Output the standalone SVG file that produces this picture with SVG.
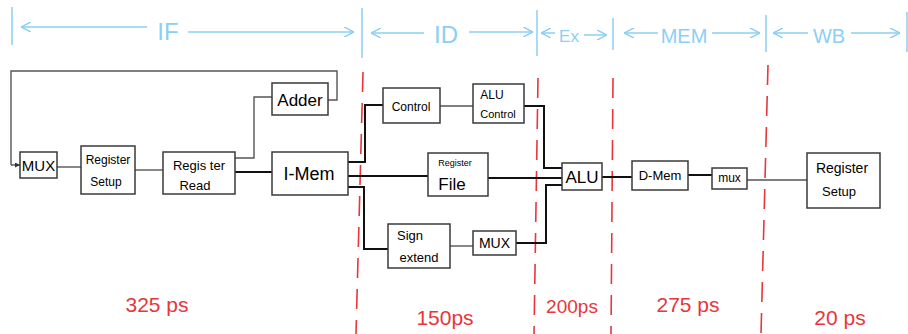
<svg xmlns="http://www.w3.org/2000/svg" width="908" height="334" viewBox="0 0 908 334">
<defs>
<style>
.box{fill:#fff;stroke:#3a3a3a;stroke-width:1.5}
.t{font-family:"Liberation Sans",Arial,sans-serif;fill:#000;text-anchor:middle}
.w{fill:none;stroke:#111;stroke-width:2}
.thin{fill:none;stroke:#555;stroke-width:1.4}
.ph{stroke:#8ccff4;stroke-width:1.5;fill:none}
.pt{font-family:"Liberation Sans",Arial,sans-serif;fill:#8ccff4;font-size:24px;text-anchor:middle}
.rd{stroke:#e8363a;stroke-width:1.6;fill:none;stroke-dasharray:20 11}
.rt{font-family:"Liberation Sans",Arial,sans-serif;fill:#e8363a;font-size:21px;text-anchor:middle}
</style>
<marker id="chev" viewBox="0 0 10 10" refX="10" refY="5" markerWidth="10" markerHeight="10" markerUnits="userSpaceOnUse" orient="auto">
<path d="M0,0 L10,5 L0,10" fill="none" stroke="#8ccff4" stroke-width="1.5"/>
</marker>
<marker id="arr" viewBox="0 0 6 6" refX="6" refY="3" markerWidth="5" markerHeight="5" markerUnits="userSpaceOnUse" orient="auto">
<path d="M0,0 L6,3 L0,6 z" fill="#333"/>
</marker>
</defs>

<g id="phases">
<line class="ph" x1="12" y1="7" x2="12" y2="45"/>
<line class="ph" x1="362" y1="8" x2="362" y2="58"/>
<line class="ph" x1="537" y1="10" x2="537" y2="56"/>
<line class="ph" x1="613" y1="18" x2="613" y2="50"/>
<line class="ph" x1="766" y1="15" x2="766" y2="52"/>
<line class="ph" x1="907" y1="12" x2="907" y2="52"/>
<line class="ph" x1="147" y1="27" x2="21" y2="27" marker-end="url(#chev)"/>
<text class="pt" x="168" y="40">IF</text>
<line class="ph" x1="188" y1="32" x2="354" y2="32" marker-end="url(#chev)"/>
<line class="ph" x1="424" y1="33" x2="371" y2="33" marker-end="url(#chev)"/>
<text class="pt" x="446" y="43">ID</text>
<line class="ph" x1="469" y1="32" x2="533" y2="32" marker-end="url(#chev)"/>
<line class="ph" x1="555" y1="33" x2="541" y2="33" marker-end="url(#chev)"/>
<text class="pt" x="569" y="42" style="font-size:17px">Ex</text>
<line class="ph" x1="584" y1="35" x2="607" y2="35" marker-end="url(#chev)"/>
<line class="ph" x1="658" y1="33" x2="624" y2="33" marker-end="url(#chev)"/>
<text class="pt" x="684" y="43" style="font-size:20px">MEM</text>
<line class="ph" x1="712" y1="33" x2="760" y2="33" marker-end="url(#chev)"/>
<line class="ph" x1="808" y1="33" x2="773" y2="33" marker-end="url(#chev)"/>
<text class="pt" x="829" y="43" style="font-size:20px">WB</text>
<line class="ph" x1="851" y1="33" x2="900" y2="33" marker-end="url(#chev)"/>
</g>

<g id="stage-dividers">
<line class="rd" x1="363" y1="72" x2="356" y2="334"/>
<line class="rd" x1="538" y1="78" x2="534" y2="334"/>
<line class="rd" x1="613" y1="78" x2="611" y2="334"/>
<line class="rd" x1="768" y1="65" x2="761" y2="334"/>
</g>

<g id="connectors">
<polyline class="thin" points="328,100 337,100 337,71 11,71 11,165"/>
<line class="thin" x1="11" y1="165" x2="20" y2="165" marker-end="url(#arr)"/>
<line class="thin" x1="57" y1="167" x2="81" y2="167"/>
<line class="thin" x1="135" y1="170" x2="163" y2="170"/>
<polyline class="thin" points="235,158 254,158 254,97 272,97"/>
<line class="w" x1="235" y1="172" x2="272" y2="172"/>
<polyline class="w" points="348,162 365,162 365,105 383,105"/>
<line class="w" x1="348" y1="176" x2="428" y2="176"/>
<polyline class="w" points="348,187 364,187 364,249 388,249"/>
<line class="thin" x1="440" y1="106" x2="473" y2="106"/>
<polyline class="w" points="524,106 544,106 544,168 562,168"/>
<line class="w" x1="488" y1="178" x2="562" y2="178"/>
<line class="thin" x1="450" y1="246" x2="473" y2="246"/>
<polyline class="w" points="516,243 546,243 546,185 562,185"/>
<line class="w" x1="602" y1="177" x2="632" y2="177"/>
<line class="w" x1="688" y1="175" x2="712" y2="175"/>
<line class="thin" x1="747" y1="180" x2="807" y2="180"/>
</g>

<g id="mux-pc">
<rect class="box" x="20" y="152" width="37" height="26"/>
<text class="t" x="38.5" y="171" style="font-size:15px">MUX</text>
</g>
<g id="register-setup-if">
<rect class="box" x="81" y="146" width="54" height="48"/>
<text class="t" x="108" y="164" style="font-size:12px">Register</text>
<text class="t" x="106" y="186" style="font-size:12px">Setup</text>
</g>
<g id="register-read">
<rect class="box" x="163" y="152" width="72" height="42"/>
<text class="t" x="199" y="170" style="font-size:13px">Regis ter</text>
<text class="t" x="195" y="190" style="font-size:13px">Read</text>
</g>
<g id="adder">
<rect class="box" x="272" y="83" width="56" height="32"/>
<text class="t" x="300" y="106" style="font-size:17px">Adder</text>
</g>
<g id="i-mem">
<rect class="box" x="272" y="152" width="76" height="43"/>
<text class="t" x="309" y="180" style="font-size:18px">I-Mem</text>
</g>
<g id="control">
<rect class="box" x="383" y="88" width="57" height="35"/>
<text class="t" x="411" y="111" style="font-size:12px">Control</text>
</g>
<g id="alu-control">
<rect class="box" x="473" y="84" width="51" height="39"/>
<text class="t" x="492" y="99" style="font-size:12px">ALU</text>
<text class="t" x="498" y="118" style="font-size:11px">Control</text>
</g>
<g id="register-file">
<rect class="box" x="428" y="153" width="60" height="43"/>
<text class="t" x="455" y="166" style="font-size:9px">Register</text>
<text class="t" x="452" y="190" style="font-size:17px">File</text>
</g>
<g id="sign-extend">
<rect class="box" x="388" y="224" width="62" height="44"/>
<text class="t" x="410" y="240" style="font-size:13px">Sign</text>
<text class="t" x="419" y="262" style="font-size:13px">extend</text>
</g>
<g id="mux-alu">
<rect class="box" x="473" y="231" width="43" height="24"/>
<text class="t" x="494.5" y="248" style="font-size:14px">MUX</text>
</g>
<g id="alu">
<rect class="box" x="562" y="163" width="40" height="27"/>
<text class="t" x="582" y="183" style="font-size:17px">ALU</text>
</g>
<g id="d-mem">
<rect class="box" x="632" y="161" width="56" height="29"/>
<text class="t" x="660" y="180" style="font-size:13px">D-Mem</text>
</g>
<g id="mux-wb">
<rect class="box" x="712" y="168" width="35" height="21"/>
<text class="t" x="729.5" y="182" style="font-size:12px">mux</text>
</g>
<g id="register-setup-wb">
<rect class="box" x="807" y="153" width="73" height="55"/>
<text class="t" x="842" y="173" style="font-size:14px">Register</text>
<text class="t" x="839" y="196" style="font-size:13px">Setup</text>
</g>

<g id="timings">
<text class="rt" x="157" y="312">325 ps</text>
<text class="rt" x="445" y="325">150ps</text>
<text class="rt" x="572" y="313" style="font-size:19px">200ps</text>
<text class="rt" x="688" y="312">275 ps</text>
<text class="rt" x="840" y="325">20 ps</text>
</g>
</svg>
